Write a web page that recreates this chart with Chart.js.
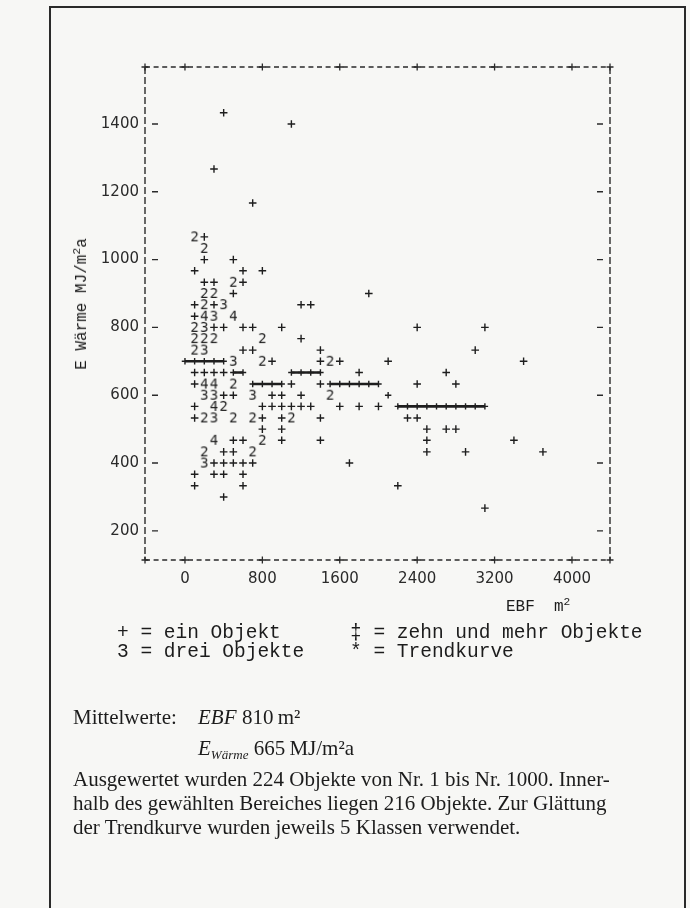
<!DOCTYPE html>
<html>
<head>
<meta charset="utf-8">
<script src="https://cdn.jsdelivr.net/npm/chart.js@4.4.0/dist/chart.umd.min.js"></script>
<style>
  body { margin: 0; background: #f7f7f5; }
  #page { position: relative; width: 690px; height: 908px; overflow: hidden; }
  #chart { position: absolute; left: 0; top: 0; }
  .t { position: absolute; white-space: nowrap; color: #1c1c1c; }
  .mono { font-family: "Liberation Mono", monospace; font-size: 19.5px; }
  .serif { font-family: "Liberation Serif", serif; font-size: 21px; }
  .border { position: absolute; background: #2a2a2a; }
  sup { font-size: 70%; vertical-align: 0.55em; line-height: 0; }
  sub { font-size: 62%; vertical-align: -0.3em; line-height: 0; }
</style>
</head>
<body>
<div id="page">
  <div class="border" style="left:49px;top:6px;width:637px;height:2px"></div>
  <div class="border" style="left:49px;top:6px;width:2px;height:902px"></div>
  <div class="border" style="left:684px;top:6px;width:2px;height:902px"></div>

  <canvas id="chart" width="690" height="908"></canvas>

  <div class="t mono" style="left:82px;top:304px;transform:translate(-50%,-50%) rotate(-90deg);font-size:16px">E W&auml;rme MJ/m<sup>2</sup>a</div>
  <div class="t mono" style="left:506px;top:598px;font-size:16px">EBF&nbsp;&nbsp;m<sup>2</sup></div>

  <div class="t mono" style="left:117px;top:622px">+ = ein Objekt</div>
  <div class="t mono" style="left:350px;top:622px">&Dagger; = zehn und mehr Objekte</div>
  <div class="t mono" style="left:117px;top:641px">3 = drei Objekte</div>
  <div class="t mono" style="left:350px;top:641px">* = Trendkurve</div>

  <div class="t serif" style="left:73px;top:705px">Mittelwerte:</div>
  <div class="t serif" style="left:198px;top:705px"><i>EBF</i></div>
  <div class="t serif" style="left:242px;top:705px">810&thinsp;m&sup2;</div>
  <div class="t serif" style="left:198px;top:736px"><i>E<sub>W&auml;rme</sub></i> 665&thinsp;MJ/m&sup2;a</div>
  <div class="t serif" style="left:73px;top:767px">Ausgewertet wurden 224 Objekte von Nr. 1 bis Nr. 1000. Inner-</div>
  <div class="t serif" style="left:73px;top:791px">halb des gew&auml;hlten Bereiches liegen 216 Objekte. Zur Gl&auml;ttung</div>
  <div class="t serif" style="left:73px;top:815px">der Trendkurve wurden jeweils 5 Klassen verwendet.</div>
</div>

<script>
// axis ticks
const xTicks = [0, 800, 1600, 2400, 3200, 4000];
const yTicks = [200, 400, 600, 800, 1000, 1200, 1400];

// one object per "+"  [EBF, E_Waerme]
const onePoints = [
  [400,1433],[1100,1400],[300,1267],[700,1167],[200,1067],
  [200,1000],[500,1000],
  [100,967],[600,967],[800,967],
  [200,933],[300,933],[600,933],
  [500,900],[1900,900],
  [100,867],[300,867],[1200,867],[1300,867],
  [100,833],
  [300,800],[400,800],[600,800],[700,800],[1000,800],[2400,800],[3100,800],
  [1200,767],
  [600,733],[700,733],[1400,733],[3000,733],
  [900,700],[1400,700],[1600,700],[2100,700],[3500,700],
  [100,667],[200,667],[300,667],[400,667],[1800,667],[2700,667],
  [100,633],[1100,633],[1400,633],[2400,633],[2800,633],
  [400,600],[500,600],[900,600],[1000,600],[1200,600],
  [100,567],[800,567],[900,567],[1000,567],[1100,567],[1200,567],[1300,567],[1600,567],[1800,567],[2000,567],
  [100,533],[800,533],[1000,533],[1400,533],[2300,533],[2400,533],
  [800,500],[1000,500],[2500,500],[2700,500],[2800,500],
  [500,467],[600,467],[1000,467],[1400,467],[2500,467],[3400,467],
  [400,433],[500,433],[2500,433],[2900,433],[3700,433],
  [300,400],[400,400],[500,400],[600,400],[700,400],[1700,400],
  [100,367],[300,367],[400,367],[600,367],
  [100,333],[600,333],[2200,333],
  [400,300],
  [3100,267]
];

// two objects at one place
const twoPoints = [
  [100,1067],[200,1033],[500,933],[200,900],[300,900],[200,867],
  [100,800],[100,767],[200,767],[300,767],[800,767],[100,733],
  [800,700],[1500,700],[500,633],[1500,600],[400,567],
  [200,533],[500,533],[700,533],[1100,533],[800,467],[200,433],[700,433]
];

// three objects
const threePoints = [
  [400,867],[300,833],[200,800],[200,733],[500,700],
  [200,600],[300,600],[700,600],[300,533],[200,400]
];

// four objects
const fourPoints = [
  [200,833],[500,833],[200,633],[300,633],[300,567],[300,467]
];

// trend curve (null = break between print rows)
const trendX = [0,100,200,300,400, null, 500,600, null, 700,800,900,1000, null,
  1100,1200,1300,1400, null, 1500,1600,1700,1800,1900,2000, null, 2100, null,
  2200,2300,2400,2500,2600,2700,2800,2900,3000,3100];
const trendY = [700,700,700,700,700, null, 667,667, null, 633,633,633,633, null,
  667,667,667,667, null, 633,633,633,633,633,633, null, 600, null,
  567,567,567,567,567,567,567,567,567,567];

const ink = '#1e1e1e';

function toXY(list) {
  return list.map(p => ({ x: p[0], y: p[1] }));
}

// glyph images used as point styles
function glyph(ch) {
  const c = document.createElement('canvas');
  c.width = 11; c.height = 15;
  const g = c.getContext('2d');
  g.fillStyle = ink;
  g.font = '14px "DejaVu Sans Mono"';
  g.textAlign = 'center';
  g.textBaseline = 'middle';
  g.fillText(ch, 5.5, 8);
  return c;
}

const trendData = trendX.map((x, i) => (x === null ? { x: null, y: null } : { x: x, y: trendY[i] }));

// frame in line printer style
const framePlugin = {
  id: 'frame',
  afterDatasetsDraw(chart) {
    const { ctx, chartArea: a, scales } = chart;
    ctx.save();
    ctx.strokeStyle = '#2a2a2a';
    ctx.lineWidth = 1.4;
    ctx.setLineDash([5, 3.6]);
    ctx.beginPath();
    ctx.moveTo(a.left, a.top); ctx.lineTo(a.right, a.top);
    ctx.moveTo(a.left, a.bottom); ctx.lineTo(a.right, a.bottom);
    ctx.stroke();
    ctx.setLineDash([7, 3]);
    ctx.beginPath();
    ctx.moveTo(a.left, a.top); ctx.lineTo(a.left, a.bottom);
    ctx.moveTo(a.right, a.top); ctx.lineTo(a.right, a.bottom);
    ctx.stroke();
    ctx.setLineDash([]);
    // "+" on top and bottom border at x ticks and corners
    const xs = [a.left, a.right].concat(xTicks.map(v => scales.x.getPixelForValue(v)));
    ctx.lineWidth = 1.3;
    ctx.beginPath();
    xs.forEach(px => {
      [a.top, a.bottom].forEach(py => {
        ctx.moveTo(px - 3.5, py); ctx.lineTo(px + 3.5, py);
        ctx.moveTo(px, py - 3.5); ctx.lineTo(px, py + 3.5);
      });
    });
    ctx.stroke();
    // "-" marks inside left and right border at y ticks
    ctx.lineWidth = 1.4;
    ctx.beginPath();
    yTicks.forEach(v => {
      const py = scales.y.getPixelForValue(v);
      ctx.moveTo(a.left + 7, py); ctx.lineTo(a.left + 13, py);
      ctx.moveTo(a.right - 13, py); ctx.lineTo(a.right - 7, py);
    });
    ctx.stroke();
    ctx.restore();
  }
};

new Chart(document.getElementById('chart'), {
  type: 'scatter',
  data: {
    datasets: [
      {
        label: 'ein Objekt',
        data: toXY(onePoints),
        pointStyle: 'cross',
        pointRadius: 3.8,
        borderColor: ink,
        pointBorderWidth: 1.4
      },
      {
        label: 'zwei Objekte',
        data: toXY(twoPoints),
        pointStyle: glyph('2'),
        pointRadius: 5
      },
      {
        label: 'drei Objekte',
        data: toXY(threePoints),
        pointStyle: glyph('3'),
        pointRadius: 5
      },
      {
        label: 'vier Objekte',
        data: toXY(fourPoints),
        pointStyle: glyph('4'),
        pointRadius: 5
      },
      {
        label: 'Trendkurve',
        data: trendData,
        showLine: true,
        spanGaps: false,
        borderColor: ink,
        borderWidth: 2.6,
        pointStyle: 'cross',
        pointRadius: 3.2,
        pointBorderWidth: 1.4
      }
    ]
  },
  options: {
    responsive: false,
    animation: false,
    events: [],
    layout: { padding: { top: 67, right: 80, left: 0, bottom: 318 } },
    plugins: { legend: { display: false }, tooltip: { enabled: false } },
    scales: {
      x: {
        type: 'linear',
        min: -413,
        max: 4393,
        grid: { display: false, drawTicks: false },
        border: { display: false },
        afterFit: s => { s.height = 30; },
        afterBuildTicks: s => { s.ticks = xTicks.map(v => ({ value: v })); },
        ticks: {
          padding: 10,
          maxRotation: 0,
          color: '#2a2a2a',
          font: { family: 'DejaVu Sans', size: 15 },
          callback: v => String(v)
        }
      },
      y: {
        type: 'linear',
        min: 114,
        max: 1568,
        grid: { display: false, drawTicks: false },
        border: { display: false },
        afterFit: s => { s.width = 145; },
        afterBuildTicks: s => { s.ticks = yTicks.map(v => ({ value: v })); },
        ticks: {
          padding: 6,
          color: '#2a2a2a',
          font: { family: 'DejaVu Sans', size: 15 },
          callback: v => String(v)
        }
      }
    }
  },
  plugins: [framePlugin]
});
</script>
</body>
</html>
